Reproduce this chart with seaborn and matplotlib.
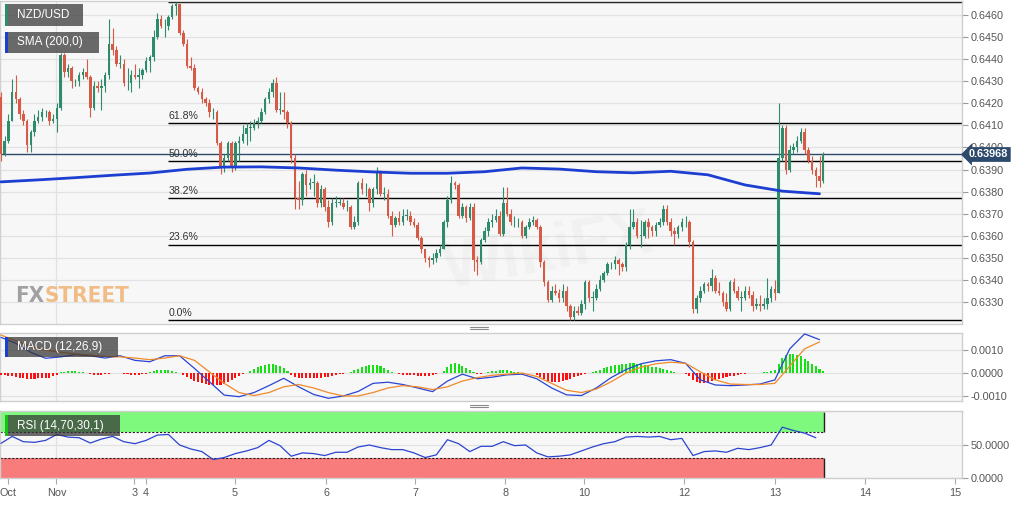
import numpy as np
import matplotlib
matplotlib.use("Agg")
import matplotlib.pyplot as plt
from matplotlib.patches import Rectangle
from matplotlib.lines import Line2D
import seaborn as sns

# NZD/USD hourly candles, prices in pips (0.0001), open = previous close
first_open = 6423
close_pips = [6397, 6403, 6412, 6425, 6422, 6415, 6412, 6401, 6407, 6412,
              6414, 6416, 6416, 6412, 6413, 6418, 6442, 6434, 6436, 6430,
              6430, 6433, 6434, 6432, 6418, 6428, 6427, 6428, 6433, 6447,
              6444, 6438, 6438, 6429, 6429, 6433, 6432, 6433, 6435, 6439,
              6441, 6450, 6458, 6455, 6455, 6459, 6464, 6465, 6452, 6447,
              6437, 6436, 6427, 6425, 6422, 6420, 6416, 6416, 6402, 6391,
              6395, 6402, 6391, 6402, 6403, 6406, 6409, 6409, 6411, 6412,
              6416, 6422, 6425, 6429, 6417, 6417, 6416, 6411, 6395, 6377,
              6376, 6388, 6383, 6384, 6384, 6375, 6381, 6373, 6366, 6375,
              6375, 6375, 6373, 6373, 6364, 6366, 6384, 6381, 6381, 6375,
              6381, 6389, 6379, 6379, 6369, 6365, 6368, 6366, 6369, 6369,
              6366, 6365, 6359, 6354, 6350, 6349, 6350, 6352, 6354, 6366,
              6376, 6384, 6383, 6369, 6373, 6368, 6373, 6349, 6348, 6358,
              6362, 6366, 6367, 6369, 6361, 6375, 6370, 6366, 6366, 6366,
              6360, 6364, 6366, 6367, 6364, 6348, 6339, 6331, 6335, 6334,
              6332, 6335, 6328, 6323, 6326, 6325, 6329, 6339, 6332, 6332,
              6336, 6340, 6343, 6347, 6347, 6349, 6347, 6346, 6356, 6364,
              6366, 6360, 6360, 6366, 6364, 6362, 6365, 6366, 6372, 6366,
              6362, 6361, 6364, 6366, 6366, 6357, 6327, 6332, 6335, 6338,
              6337, 6341, 6335, 6334, 6330, 6327, 6339, 6335, 6332, 6332,
              6335, 6333, 6328, 6329, 6328, 6329, 6332, 6336, 6334, 6395,
              6409, 6390, 6399, 6400, 6403, 6407, 6399, 6394, 6390, 6387,
              6385, 6396.8]
high_pips = [6425, 6405, 6415, 6431, 6433, 6423, 6417, 6413, 6408, 6415,
             6417, 6418, 6417, 6417, 6415, 6420, 6443, 6443, 6438, 6437,
             6431, 6434, 6436, 6440, 6433, 6430, 6430, 6431, 6434, 6458,
             6454, 6446, 6442, 6440, 6436, 6435, 6438, 6436, 6436, 6441,
             6442, 6453, 6461, 6460, 6458, 6460, 6465, 6466, 6465, 6453,
             6449, 6441, 6438, 6428, 6427, 6423, 6422, 6418, 6417, 6403,
             6397, 6403, 6403, 6403, 6405, 6410, 6411, 6412, 6413, 6414,
             6418, 6423, 6427, 6431, 6432, 6425, 6425, 6417, 6412, 6397,
             6385, 6389, 6390, 6386, 6388, 6385, 6383, 6382, 6376, 6377,
             6378, 6377, 6377, 6376, 6374, 6369, 6385, 6386, 6384, 6382,
             6382, 6391, 6390, 6382, 6381, 6371, 6369, 6371, 6372, 6372,
             6371, 6368, 6366, 6360, 6354, 6351, 6352, 6354, 6356, 6367,
             6378, 6387, 6385, 6384, 6375, 6374, 6375, 6375, 6351, 6359,
             6364, 6368, 6370, 6372, 6371, 6382, 6382, 6372, 6369, 6368,
             6367, 6365, 6368, 6369, 6368, 6365, 6349, 6340, 6337, 6338,
             6336, 6338, 6337, 6329, 6328, 6328, 6331, 6340, 6340, 6335,
             6338, 6342, 6344, 6348, 6348, 6351, 6350, 6348, 6357, 6372,
             6372, 6368, 6367, 6367, 6368, 6365, 6366, 6368, 6374, 6374,
             6368, 6364, 6365, 6368, 6369, 6367, 6358, 6333, 6337, 6339,
             6339, 6345, 6342, 6339, 6335, 6334, 6340, 6341, 6337, 6335,
             6337, 6337, 6335, 6332, 6333, 6332, 6341, 6337, 6340, 6420,
             6410, 6410, 6401, 6402, 6405, 6409, 6409, 6400, 6396, 6391,
             6396, 6398]
low_pips = [6394, 6396, 6402, 6412, 6420, 6413, 6410, 6398, 6398, 6405,
            6411, 6412, 6414, 6410, 6411, 6407, 6417, 6432, 6432, 6427,
            6428, 6428, 6431, 6431, 6414, 6417, 6425, 6417, 6425, 6431,
            6442, 6437, 6436, 6428, 6426, 6425, 6431, 6427, 6431, 6434,
            6434, 6439, 6449, 6454, 6450, 6453, 6458, 6460, 6451, 6446,
            6436, 6435, 6426, 6424, 6420, 6419, 6414, 6413, 6401, 6388,
            6389, 6394, 6389, 6390, 6394, 6402, 6401, 6403, 6408, 6409,
            6411, 6415, 6420, 6423, 6416, 6415, 6413, 6409, 6393, 6372,
            6372, 6374, 6378, 6381, 6378, 6373, 6373, 6371, 6364, 6365,
            6373, 6374, 6372, 6371, 6363, 6363, 6365, 6379, 6378, 6371,
            6373, 6379, 6378, 6376, 6368, 6360, 6364, 6365, 6365, 6367,
            6365, 6364, 6358, 6352, 6348, 6346, 6347, 6348, 6351, 6354,
            6364, 6375, 6381, 6368, 6368, 6366, 6367, 6344, 6342, 6347,
            6357, 6360, 6364, 6366, 6360, 6360, 6369, 6365, 6364, 6364,
            6359, 6359, 6363, 6365, 6363, 6346, 6337, 6330, 6330, 6333,
            6330, 6330, 6326, 6322, 6322, 6324, 6324, 6327, 6330, 6326,
            6331, 6335, 6339, 6342, 6345, 6345, 6342, 6344, 6344, 6354,
            6363, 6359, 6355, 6359, 6359, 6360, 6360, 6364, 6365, 6365,
            6360, 6356, 6359, 6362, 6364, 6355, 6325, 6325, 6330, 6334,
            6335, 6335, 6334, 6333, 6328, 6326, 6326, 6334, 6331, 6326,
            6331, 6332, 6326, 6327, 6326, 6327, 6327, 6330, 6331, 6334,
            6394, 6388, 6389, 6397, 6398, 6402, 6397, 6393, 6388, 6382,
            6382, 6384]

# SMA(200), read every 10 candles, in pips
sma_step = 10
sma_pips = [6384.4, 6385.3, 6386.3, 6387.4, 6388.4, 6390.1, 6391.1, 6391.2,
            6390.7, 6389.7, 6388.9, 6388.3, 6388.3, 6389.0, 6390.7, 6390.2,
            6389.0, 6388.5, 6389.2, 6387.6, 6383.0, 6380.2, 6379.0]

# MACD(12,26,9) in units of 0.0001; lines read every 4 candles, histogram per candle
macd_step = 4
macd_e4 = [15.5, 12.9, 9.0, 6.4, 7.0, 8.0, 7.5, 6.5, 7.5, 5.5, 4.9, 7.5, 7.5, 2.0,
           -3.8, -9.6, -10.3, -8.5, -5.5, -2.3, -6.0, -9.3, -11.0, -10.0, -8.0,
           -4.5, -4.0, -5.0, -6.5, -8.1, -3.5, -0.5, -2.5, -1.8, -0.8, -0.5, -2.5,
           -6.5, -9.5, -9.8, -6.5, -2.0, 1.5, 4.0, 5.3, 5.8, 4.2, -3.0, -5.2, -5.5,
           -5.2, -4.8, -3.0, 10.5, 17.0, 14.5]
signal_e4 = [16.5, 14.0, 11.5, 10.0, 9.0, 8.3, 7.8, 7.2, 7.0, 6.5, 5.8, 6.5, 7.5,
             5.5, 0.5, -4.5, -8.5, -9.8, -8.5, -6.0, -5.0, -6.5, -8.5, -10.0,
             -10.0, -8.5, -6.5, -5.5, -6.0, -7.2, -6.0, -3.5, -2.0, -1.0, -0.5,
             0.0, -1.5, -4.5, -7.5, -8.5, -7.0, -3.8, 0.0, 2.5, 4.0, 4.7, 4.2, 0.5,
             -3.0, -4.8, -5.0, -5.0, -4.5, 3.0, 10.5, 13.5]
hist_e4 = [-1.0, -1.0, -1.2, -1.5, -1.8, -2.0, -2.3, -2.5, -2.5, -2.5, -2.3, -2.3,
           -2.2, -2.0, -1.5, -0.8, 0.3, 0.6, 0.8, 0.8, 0.7, 0.5, 0.3, 0.0,
           -0.5, -0.7, -0.7, -0.7, -0.6, -0.4, 0.2, 0.2, 0.0,
           -0.3, -0.6, -0.7, -0.8, -0.8, -0.6, -0.3,
           0.3, 0.8, 1.1, 1.3, 1.4, 1.3, 1.0, 0.6, 0.1,
           -0.8, -1.8, -2.6, -3.3, -3.9, -4.4, -4.8, -5.1, -5.2, -5.2, -5.0, -4.6,
           -4.0, -3.2, -2.2, -1.2, -0.3, 0.2,
           0.8, 1.6, 2.4, 3.1, 3.6, 4.0, 4.0, 3.6, 3.0, 2.0, 0.8,
           -0.8, -1.6, -2.1, -2.3, -2.3, -2.3, -2.2, -2.2, -2.0, -1.8, -1.6, -1.3,
           -1.0, -0.6, -0.3, 0.1,
           0.5, 1.2, 1.9, 2.5, 3.0, 3.3, 3.4, 3.3, 2.9, 2.3, 1.5, 0.6, 0.0,
           -0.4, -0.7, -0.9, -1.0, -1.0, -1.1, -1.2, -1.2, -1.1, -0.9, -0.6, -0.2,
           1.0, 2.5, 3.8, 4.2, 3.9, 3.2, 2.3, 1.3, 0.4, -0.3, -0.4, -0.2,
           0.3, 0.7, 1.0, 1.2, 1.2, 1.1, 0.9, 0.6, 0.3, 0.1, 0.0, -0.1, -0.2,
           -0.8, -1.8, -2.7, -3.4, -3.8, -3.9, -3.8, -3.5, -3.0, -2.4, -1.8, -1.2,
           -0.7, -0.3, 0.1,
           0.5, 1.0, 1.5, 2.0, 2.5, 2.9, 3.3, 3.6, 3.9, 4.1, 4.2, 4.2, 4.1, 3.9,
           3.6, 3.2, 2.8, 2.4, 2.0, 1.6, 1.2, 0.8, 0.5, 0.2, 0.0, -0.3,
           -1.5, -3.0, -4.0, -4.3, -4.2, -3.8, -3.4, -3.0, -2.6, -2.2, -1.8, -1.4,
           -1.1, -0.8, -0.5, -0.3, -0.1, 0.0, 0.1, 0.1,
           0.3, 0.5, 0.8, 1.2, 3.7, 6.5, 7.8, 8.3, 8.3, 8.0, 7.4, 6.3, 5.2, 3.9,
           2.9, 1.9, 0.8]

# RSI(14) read every 3 candles
rsi_step = 3
rsi_vals = [52.5, 63, 55, 54, 57, 66, 62, 61, 53, 59, 63, 55, 52, 57, 65, 66, 50,
            44, 40, 28, 31, 37, 41, 46, 57, 49, 33, 38, 37, 34, 39, 39, 47, 50, 46,
            43, 43, 38, 31, 35, 58, 52, 40, 48, 48, 55, 49, 50, 38, 32, 33, 35, 41,
            47, 52, 55, 62, 63, 62, 63, 58, 60, 34, 40, 41, 39, 45, 43, 46, 50, 77,
            72, 68, 61]

tick_pos = [2.0, 14.9, 35.8, 39.0, 62.9, 87.4, 111.4, 135.5, 156.7, 183.6, 208.1, 232.3, 256.5]
tick_labels = ["Oct", "Nov", "3", "4", "5", "6", "7", "8", "10", "12", "13", "14", "15"]
fib_levels = [0.0, 0.236, 0.382, 0.5, 0.618, 1.0]

GREEN = "#2e8b6b"
RED = "#d65a45"
BLUE = "#1c3fd1"
NAVY = "#2d4a6c"
XMIN, XMAX = -0.27, 258.3

close = np.array(close_pips, float) / 1e4
high = np.array(high_pips, float) / 1e4
low = np.array(low_pips, float) / 1e4
open_ = np.concatenate([[first_open / 1e4], close[:-1]])
idx = np.arange(len(close))

sns.set_theme(style="white")
plt.rcParams["font.family"] = ["Liberation Sans", "DejaVu Sans"]

W, H = 1032, 505
fig = plt.figure(figsize=(W / 100, H / 100), dpi=100)


def panel(top, bottom):
    a = fig.add_axes([0, 1 - bottom / H, 962 / W, (bottom - top) / H])
    a.set_facecolor("#f7f7f7")
    for s in a.spines.values():
        s.set_color("#cfcfcf")
        s.set_linewidth(1)
    a.yaxis.tick_right()
    a.tick_params(axis="y", right=True, length=4, width=0.8, color="#9a9a9a",
                  labelsize=7.8, labelcolor="#555555", pad=2)
    a.tick_params(axis="x", bottom=False, labelbottom=False)
    a.set_xlim(XMIN, XMAX)
    a.grid(axis="y", color="#e2e2e2", lw=0.9)
    a.axvline(tick_pos[1], color="#e2e2e2", lw=0.9, zorder=0.5)
    a.set_axisbelow(True)
    return a


# ---- price panel
ax = panel(1, 324)
ax.set_ylim(0.63200, 0.646635)
ax.set_yticks(np.arange(0.6330, 0.64605, 0.001))
ax.yaxis.set_major_formatter(plt.FuncFormatter(lambda v, p: f"{v:.4f}"))

ax.text(0.57, 0.22, "WikiFX", transform=ax.transAxes, fontsize=46, fontweight="bold",
        color="#c8c8c8", alpha=0.12, rotation=10, ha="center", va="center", zorder=0.6)

colors = np.where(close >= open_, GREEN, RED)
ax.vlines(idx, low, high, colors=colors, lw=0.8, zorder=3)
ax.bar(idx, np.maximum(np.abs(close - open_), 0.00002), bottom=np.minimum(open_, close),
       width=0.68, color=colors, linewidth=0, zorder=4)

swing_hi, swing_lo = high.max(), low.min()
fib_start = int(np.argmax(high)) - 2
for lv in fib_levels:
    p = swing_lo + lv * (swing_hi - swing_lo)
    ax.hlines(p, fib_start, XMAX, color="black", lw=1, zorder=2)
    if lv < 1:
        ax.annotate(f"{lv * 100:.1f}%", (fib_start, p), xytext=(0, 1.5),
                    textcoords="offset points", fontsize=7.6, color="#333333",
                    ha="left", va="bottom")

ax.axhline(close[-1], color=NAVY, lw=1, zorder=2.5)
sns.lineplot(x=np.arange(len(sma_pips)) * sma_step, y=np.array(sma_pips) / 1e4, ax=ax,
             color=BLUE, linewidth=2, zorder=5)
ax.set_xlabel("")
ax.set_ylabel("")
ax.annotate(f"{close[-1]:.5f}", xy=(1, close[-1]), xycoords=("axes fraction", "data"),
            xytext=(5, 0), textcoords="offset points", ha="left", va="center",
            color="white", fontsize=7.8, fontweight="bold", zorder=20,
            annotation_clip=False,
            bbox=dict(boxstyle="larrow,pad=0.22", fc=NAVY, ec="none"))

# ---- MACD panel
axm = panel(333, 401)
axm.set_ylim(-0.001217, 0.001739)
axm.set_yticks([-0.001, 0.0, 0.001])
axm.yaxis.set_major_formatter(plt.FuncFormatter(lambda v, p: f"{v:.4f}"))
hist = np.array(hist_e4) * 1e-4
axm.bar(np.arange(len(hist)), hist, width=0.55,
        color=np.where(hist >= 0, "#14e014", "#ff1010"), linewidth=0, zorder=3)
mx = np.arange(len(macd_e4)) * macd_step
sns.lineplot(x=mx, y=np.array(macd_e4) * 1e-4, ax=axm, color="#2a44d6", linewidth=0.9, zorder=4)
sns.lineplot(x=mx, y=np.array(signal_e4) * 1e-4, ax=axm, color="#f08a2a", linewidth=0.9, zorder=4)
axm.set_xlabel("")
axm.set_ylabel("")

# ---- RSI panel
axr = panel(411, 478)
axr.set_ylim(0, 101.5)
axr.set_yticks([0, 50])
axr.set_yticklabels(["0.0000", "50.0000"])
band_end = idx[-1] + 0.3
axr.add_patch(Rectangle((XMIN, 70), band_end - XMIN, 30, fc="#7ef97e", ec="none", zorder=1))
axr.add_patch(Rectangle((XMIN, 0), band_end - XMIN, 30, fc="#f97c7c", ec="none", zorder=1))
axr.hlines([70, 30], XMIN, band_end, colors="#222222", lw=0.8, linestyles=(0, (2, 1.5)), zorder=2)
axr.vlines([band_end, band_end], [70, 0], [100, 30], colors="#222222", lw=1, zorder=2)
sns.lineplot(x=np.arange(len(rsi_vals)) * rsi_step, y=rsi_vals, ax=axr,
             color="#2b44cf", linewidth=0.9, zorder=4)
axr.set_xlabel("")
axr.set_ylabel("")
axr.set_xticks(tick_pos)
axr.set_xticklabels(tick_labels)
axr.tick_params(axis="x", bottom=True, labelbottom=True, length=4, width=0.8,
                color="#aaaaaa", labelsize=7.8, labelcolor="#555555", pad=3)


# ---- legend tags
def tag(text, left, top, right, bottom, bar):
    fig.add_artist(Rectangle((left / W, 1 - bottom / H), (right - left) / W, (bottom - top) / H,
                             transform=fig.transFigure, fc="#333333", alpha=0.72, ec="none", zorder=10))
    fig.add_artist(Rectangle((left / W, 1 - bottom / H), 2.5 / W, (bottom - top) / H,
                             transform=fig.transFigure, fc=bar, ec="none", zorder=11))
    fig.text((left + 12) / W, 1 - (top + bottom) / 2 / H, text, color="white", fontsize=8.5,
             ha="left", va="center", zorder=12)


tag("NZD/USD", 5, 4, 83, 26, GREEN)
tag("SMA (200,0)", 5, 32, 99, 53, BLUE)
tag("MACD (12,26,9)", 5, 337, 118, 357, BLUE)
tag("RSI (14,70,30,1)", 5, 415, 120, 436, "#19c019")

# panel resize handles
for yy in (326.5, 329, 404.5, 407):
    fig.add_artist(Line2D([470 / W, 488 / W], [1 - yy / H] * 2, color="#8a8a8a", lw=0.8))

# FXStreet watermark
fx = fig.text(15 / W, 1 - 302 / H, "FX", fontsize=16, fontweight="bold", family="DejaVu Sans",
              fontstretch="condensed", color="#8c8c8c", alpha=0.8)
fig.text(0, 0, "", alpha=0)
ax.annotate("STREET", xy=(1, 0), xycoords=fx, va="bottom", ha="left", fontsize=16,
            fontweight="bold", family="DejaVu Sans", fontstretch="condensed",
            color="#f0aa62", alpha=0.75, annotation_clip=False)

fig.savefig("out.png", dpi=100)
